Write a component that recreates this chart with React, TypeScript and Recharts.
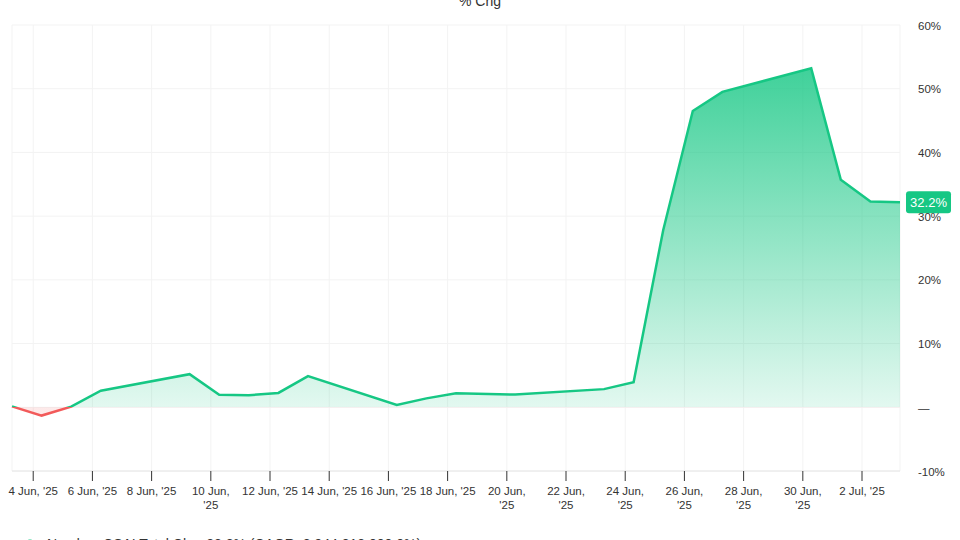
import React from 'react';
import { AreaChart, Area, XAxis, YAxis, CartesianGrid, ReferenceLine } from 'recharts';

// ---- data ----
const dates = [
  '2025-06-03', '2025-06-04', '2025-06-05', '2025-06-06', '2025-06-09', '2025-06-10',
  '2025-06-11', '2025-06-12', '2025-06-13', '2025-06-16', '2025-06-17', '2025-06-18',
  '2025-06-20', '2025-06-23', '2025-06-24', '2025-06-25', '2025-06-26', '2025-06-27',
  '2025-06-30', '2025-07-01', '2025-07-02', '2025-07-03',
];
const pctChg = [
  0.15, -1.3, 0.1, 2.6, 5.2, 1.95,
  1.9, 2.25, 4.9, 0.35, 1.4, 2.2,
  2.0, 2.85, 3.95, 27.8, 46.5, 49.5,
  53.2, 35.7, 32.3, 32.2,
];
const xTickDates = [
  '2025-06-04', '2025-06-06', '2025-06-08', '2025-06-10', '2025-06-12', '2025-06-14',
  '2025-06-16', '2025-06-18', '2025-06-20', '2025-06-22', '2025-06-24', '2025-06-26',
  '2025-06-28', '2025-06-30', '2025-07-02',
];
const xTickLabels: string[][] = [
  ["4 Jun, '25"], ["6 Jun, '25"], ["8 Jun, '25"], ['10 Jun,', "'25"], ["12 Jun, '25"], ["14 Jun, '25"],
  ["16 Jun, '25"], ["18 Jun, '25"], ['20 Jun,', "'25"], ['22 Jun,', "'25"], ['24 Jun,', "'25"], ['26 Jun,', "'25"],
  ['28 Jun,', "'25"], ['30 Jun,', "'25"], ["2 Jul, '25"],
];
const yTicks = [-10, 0, 10, 20, 30, 40, 50, 60];
const yTickLabels = ['-10%', '\u2014', '10%', '20%', '30%', '40%', '50%', '60%'];
const chartTitle = '% Chg';
const legendLabel = 'Nasdaq: CSAI Total Chg: 32.2% (CAGR: 2,944,813,000.0%)';

// ---- helpers ----
const SESSION_HOUR = 6.8;
const toTs = (d: string, h = 0) => Date.parse(d + 'T00:00:00Z') + h * 3600000;
const data = dates.map((d, i) => ({ t: toTs(d, SESSION_HOUR), v: pctChg[i] }));
const xTicks = xTickDates.map((d) => toTs(d));
const lastValue = pctChg[pctChg.length - 1];
const maxV = Math.max(...pctChg);
const minV = Math.min(...pctChg);
const zeroOff = maxV / (maxV - minV);

const GREEN = '#16c784';
const RED = '#f25a5a';
const FONT = 'Helvetica, Arial, "Liberation Sans", sans-serif';
const TEXT = '#333333';
const TICK_FS = 11.5;

const XTick = (props: any) => {
  const { x, y, payload } = props;
  const idx = xTicks.indexOf(payload.value);
  const lines = idx >= 0 ? xTickLabels[idx] : [];
  return (
    <text x={x} y={y} textAnchor="middle" fontSize={TICK_FS} fill={TEXT} fontFamily={FONT}>
      {lines.map((l, i) => (
        <tspan key={i} x={x} dy={i === 0 ? 12 : 13.5}>{l}</tspan>
      ))}
    </text>
  );
};

const YTick = (props: any) => {
  const { x, y, payload } = props;
  const idx = yTicks.indexOf(payload.value);
  return (
    <text x={x + 18} y={y + 4.5} textAnchor="start" fontSize={TICK_FS} fill={TEXT} fontFamily={FONT}>
      {idx >= 0 ? yTickLabels[idx] : ''}
    </text>
  );
};

const LastLabel = (props: any) => {
  const vb = props.viewBox || {};
  const right = (vb.x || 0) + (vb.width || 0);
  const cy = vb.y || 0;
  return (
    <g>
      <rect x={right + 6} y={cy - 11} width={45} height={22} rx={3} ry={3} fill={GREEN} />
      <text x={right + 28.5} y={cy + 4.5} textAnchor="middle" fontSize={13} fill="#ffffff" fontFamily={FONT}>
        {lastValue.toFixed(1)}%
      </text>
    </g>
  );
};

export default function App() {
  const W = 960;
  const H = 560;
  return (
    <div style={{ position: 'absolute', left: 0, top: 0, width: W, height: H, background: '#fff', fontFamily: FONT }}>
      <AreaChart
        width={W}
        height={H}
        data={data}
        margin={{ top: 25, right: 0, bottom: 29, left: 12 }}
      >
        <defs>
          <linearGradient id="strokeGrad" x1="0" y1="0" x2="0" y2="1">
            <stop offset={0} stopColor={GREEN} />
            <stop offset={zeroOff} stopColor={GREEN} />
            <stop offset={zeroOff} stopColor={RED} />
            <stop offset={1} stopColor={RED} />
          </linearGradient>
          <linearGradient id="fillGrad" x1="0" y1="0" x2="0" y2="1">
            <stop offset={0} stopColor={GREEN} stopOpacity={0.82} />
            <stop offset={zeroOff} stopColor={GREEN} stopOpacity={0.12} />
            <stop offset={zeroOff} stopColor={RED} stopOpacity={0.13} />
            <stop offset={1} stopColor={RED} stopOpacity={0.13} />
          </linearGradient>
        </defs>
        <CartesianGrid stroke="#f3f3f3" strokeWidth={1} />
        <XAxis
          dataKey="t"
          type="number"
          domain={['dataMin', 'dataMax']}
          ticks={xTicks}
          interval={0}
          tick={<XTick />}
          tickLine={{ stroke: '#333333', strokeWidth: 1 }}
          tickSize={10}
          tickMargin={2}
          axisLine={{ stroke: '#e6e6e6' }}
          height={60}
        />
        <YAxis
          orientation="right"
          type="number"
          domain={[-10, 60]}
          ticks={yTicks}
          interval={0}
          tick={<YTick />}
          tickLine={false}
          axisLine={false}
          tickSize={0}
          tickMargin={0}
          width={60}
        />
        <Area
          type="linear"
          dataKey="v"
          baseValue={0}
          stroke="url(#strokeGrad)"
          strokeWidth={2.5}
          fill="url(#fillGrad)"
          fillOpacity={1}
          dot={false}
          activeDot={false}
          isAnimationActive={false}
        />
        <ReferenceLine y={lastValue} stroke="none" label={<LastLabel />} />
      </AreaChart>
      <svg width={W} height={H} style={{ position: 'absolute', left: 0, top: 0, pointerEvents: 'none' }}>
        <text x={480} y={6} textAnchor="middle" fontSize={14} fill={TEXT} fontFamily={FONT}>{chartTitle}</text>
        <circle cx={30} cy={544} r={4.5} fill={GREEN} />
        <text x={47} y={549} fontSize={14} fill={TEXT} fontFamily={FONT}>{legendLabel}</text>
      </svg>
    </div>
  );
}
